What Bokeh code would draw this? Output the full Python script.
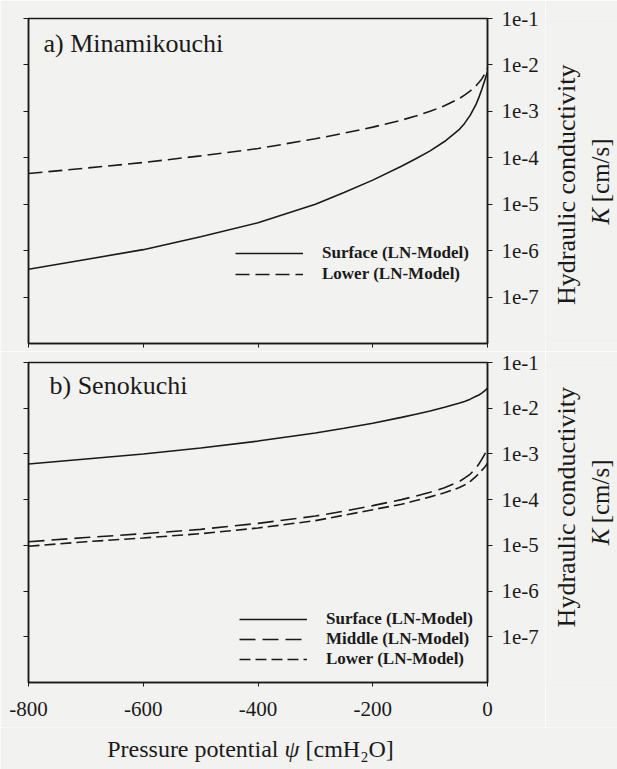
import math
from bokeh.plotting import figure
from bokeh.layouts import column, row
from bokeh.models import (Range1d, LogAxis, FixedTicker, CustomJSTickFormatter,
                          Label, Legend, LegendItem)
from bokeh.core.properties import value
from bokeh.embed import file_html
from bokeh.resources import INLINE

# ---------------- data ----------------
psi = [-800, -700, -600, -500, -400, -300, -250, -200, -150, -125, -100, -75, -50, -40,
       -30, -20, -15, -10, -5, -2, 0]

# a) Minamikouchi
K_a_surface = [3.98e-7, 6.46e-7, 1.05e-6, 2.0e-6, 3.98e-6, 1.0e-5, 1.78e-5, 3.3e-5, 6.6e-5,
               9.5e-5, 1.41e-4, 2.24e-4, 3.98e-4, 5.5e-4, 8.3e-4, 1.41e-3, 2.0e-3, 2.95e-3,
               4.57e-3, 6.0e-3, 7.2e-3]
K_a_lower = [4.57e-5, 6.0e-5, 7.9e-5, 1.1e-4, 1.58e-4, 2.57e-4, 3.39e-4, 4.57e-4, 6.46e-4,
             7.94e-4, 1.0e-3, 1.32e-3, 1.86e-3, 2.24e-3, 2.75e-3, 3.55e-3, 4.17e-3, 5.0e-3,
             6.3e-3, 7.6e-3, 8.5e-3]

# b) Senokuchi
K_b_surface = [6.03e-4, 7.76e-4, 1.0e-3, 1.35e-3, 1.91e-3, 2.88e-3, 3.63e-3, 4.68e-3, 6.31e-3,
               7.41e-3, 8.71e-3, 1.05e-2, 1.29e-2, 1.41e-2, 1.58e-2, 1.82e-2, 1.95e-2, 2.14e-2,
               2.40e-2, 2.57e-2, 2.75e-2]
K_b_middle = [1.2e-5, 1.48e-5, 1.8e-5, 2.24e-5, 3.02e-5, 4.37e-5, 5.62e-5, 7.41e-5, 1.0e-4,
              1.2e-4, 1.45e-4, 1.82e-4, 2.45e-4, 2.95e-4, 3.63e-4, 4.9e-4, 6.03e-4, 7.59e-4,
              9.77e-4, 1.15e-3, 1.29e-3]
K_b_lower = [9.55e-6, 1.2e-5, 1.45e-5, 1.8e-5, 2.4e-5, 3.47e-5, 4.57e-5, 6.03e-5, 7.94e-5,
             9.55e-5, 1.15e-4, 1.41e-4, 1.82e-4, 2.09e-4, 2.51e-4, 3.24e-4, 3.72e-4, 4.37e-4,
             5.13e-4, 5.75e-4, 6.31e-4]

x_ticks = [-800, -600, -400, -200, 0]
y_ticks = [1e-7, 1e-6, 1e-5, 1e-4, 1e-3, 1e-2, 1e-1]
y_lo, y_hi = 1e-8, 1e-1
x_lo, x_hi = -800, 0

panel_titles = ["a) Minamikouchi", "b) Senokuchi"]
legend_a = ["Surface (LN-Model)", "Lower (LN-Model)"]
legend_b = ["Surface (LN-Model)", "Middle (LN-Model)", "Lower (LN-Model)"]
y_title_line1 = "Hydraulic conductivity"
y_title_sym = "K"
y_title_unit = "[cm/s]"
x_title_parts = ["Pressure potential", "ψ", "[cmH₂O]"]

# ---------------- style / layout ----------------
INK = "#1a1a1a"
BG = "#f2f2f0"
SERIF = "Liberation Serif"
LW = 1.6
PW = 545          # width of each plotting figure
TW = 72           # width of the side strip holding the y title
H1, H2, H3 = 351, 376, 42


def make_panel(height, border_top, border_bottom, show_x_labels):
    p = figure(width=PW, height=height, y_axis_type="log",
               x_range=Range1d(x_lo, x_hi), y_range=Range1d(y_lo, y_hi),
               output_backend="svg", toolbar_location=None,
               min_border_left=28, min_border_right=58,
               min_border_top=border_top, min_border_bottom=border_bottom)
    p.background_fill_color = BG
    p.border_fill_color = BG
    p.outline_line_color = INK
    p.outline_line_width = 1.5
    p.grid.visible = False

    ya = p.yaxis[0]
    ya.ticker = FixedTicker(ticks=y_ticks, minor_ticks=[])
    ya.formatter = CustomJSTickFormatter(code="return ''")
    ya.major_label_text_font_size = "0px"
    ya.major_tick_out = 5
    ya.major_tick_in = 0
    ya.minor_tick_out = 0
    ya.axis_line_color = INK
    ya.axis_line_width = 1.5
    ya.major_tick_line_color = INK

    ra = LogAxis(ticker=FixedTicker(ticks=y_ticks, minor_ticks=[]),
                 formatter=CustomJSTickFormatter(code="return '1e' + Math.round(Math.log10(tick))"))
    ra.major_label_text_font = SERIF
    ra.major_label_text_font_size = "21px"
    ra.major_label_text_color = INK
    ra.major_tick_out = 5
    ra.major_tick_in = 0
    ra.minor_tick_out = 0
    ra.major_label_standoff = 9
    ra.axis_line_color = INK
    ra.axis_line_width = 1.5
    ra.major_tick_line_color = INK
    p.add_layout(ra, "right")

    xa = p.xaxis[0]
    xa.ticker = FixedTicker(ticks=x_ticks, minor_ticks=[])
    xa.major_tick_out = 4
    xa.major_tick_in = 0
    xa.minor_tick_out = 0
    xa.axis_line_color = INK
    xa.axis_line_width = 1.5
    xa.major_tick_line_color = INK
    if show_x_labels:
        xa.formatter = CustomJSTickFormatter(code="return tick.toFixed(0)")
        xa.major_label_text_font = SERIF
        xa.major_label_text_font_size = "21px"
        xa.major_label_text_color = INK
        xa.major_label_standoff = 15
    else:
        xa.formatter = CustomJSTickFormatter(code="return ''")
        xa.major_label_text_font_size = "0px"
    return p


def strip(width, height):
    s = figure(width=width, height=height, x_range=Range1d(0, width),
               y_range=Range1d(0, height), x_axis_location=None, y_axis_location=None,
               output_backend="svg", toolbar_location=None,
               min_border_left=0, min_border_right=0, min_border_top=0, min_border_bottom=0)
    s.background_fill_color = BG
    s.border_fill_color = BG
    s.outline_line_color = None
    s.grid.visible = False
    return s


def y_title_strip(height, yc):
    s = strip(TW, height)
    common = dict(angle=math.pi / 2, text_baseline="middle", text_font=value(SERIF),
                  text_color=INK)
    s.text(x=[21], y=[yc + 1], text=[y_title_line1], text_align="center",
           text_font_size="26px", **common)
    s.text(x=[55], y=[yc - 24], text=[y_title_sym], text_align="right",
           text_font_style="italic", text_font_size="25px", **common)
    s.text(x=[55], y=[yc - 18], text=[y_title_unit], text_align="left",
           text_font_size="25px", **common)
    return s


p1 = make_panel(H1, 18, 8, False)
p2 = make_panel(H2, 11, 45, True)

# y-title strips, centred on each frame
t1 = y_title_strip(H1, H1 - (18 + (H1 - 18 - 8) / 2))
t2 = y_title_strip(H2, H2 - (11 + (H2 - 11 - 45) / 2))

# ---------------- panel a ----------------
r_as = p1.line(psi, K_a_surface, line_color=INK, line_width=LW)
r_al = p1.line(psi, K_a_lower, line_color=INK, line_width=LW, line_dash="14 6")
p1.add_layout(Label(x=x_lo, y=y_hi, x_offset=15, y_offset=-25, text=panel_titles[0],
                    text_baseline="middle", text_font=SERIF, text_font_size="26px",
                    text_color=INK))
leg1 = Legend(items=[LegendItem(label=legend_a[0], renderers=[r_as]),
                     LegendItem(label=legend_a[1], renderers=[r_al])],
              location=(207, 59), orientation="vertical")

# ---------------- panel b ----------------
r_bs = p2.line(psi, K_b_surface, line_color=INK, line_width=LW)
r_bm = p2.line(psi, K_b_middle, line_color=INK, line_width=LW, line_dash="16 7")
r_bl = p2.line(psi, K_b_lower, line_color=INK, line_width=LW, line_dash="11 5")
p2.add_layout(Label(x=x_lo, y=y_hi, x_offset=21, y_offset=-23, text=panel_titles[1],
                    text_baseline="middle", text_font=SERIF, text_font_size="26px",
                    text_color=INK))
leg2 = Legend(items=[LegendItem(label=legend_b[0], renderers=[r_bs]),
                     LegendItem(label=legend_b[1], renderers=[r_bm]),
                     LegendItem(label=legend_b[2], renderers=[r_bl])],
              location=(211, 13), orientation="vertical")

for lg, sp in ((leg1, 1), (leg2, 0)):
    lg.glyph_width = 68
    lg.glyph_height = 20
    lg.label_height = 20
    lg.spacing = sp
    lg.padding = 0
    lg.margin = 0
    lg.label_standoff = 19
    lg.border_line_alpha = 0
    lg.background_fill_alpha = 0
    lg.label_text_font = SERIF
    lg.label_text_font_size = "17px"
    lg.label_text_font_style = "bold"
    lg.label_text_color = INK
p1.add_layout(leg1, "center")
p2.add_layout(leg2, "center")

# ---------------- x-axis title strip ----------------
xt = strip(PW + TW, H3)
xcommon = dict(text_baseline="middle", text_font=value(SERIF), text_font_size="24px",
               text_color=INK)
xt.text(x=[278], y=[H3 / 2], text=[x_title_parts[0]], text_align="right", **xcommon)
xt.text(x=[284], y=[H3 / 2], text=[x_title_parts[1]], text_align="left",
        text_font_style="italic", **xcommon)
xt.text(x=[305], y=[H3 / 2], text=[x_title_parts[2]], text_align="left", **xcommon)

layout = column(row(p1, t1, spacing=0), row(p2, t2, spacing=0), xt, spacing=0)
open("out.html", "w").write(file_html(layout, INLINE))
